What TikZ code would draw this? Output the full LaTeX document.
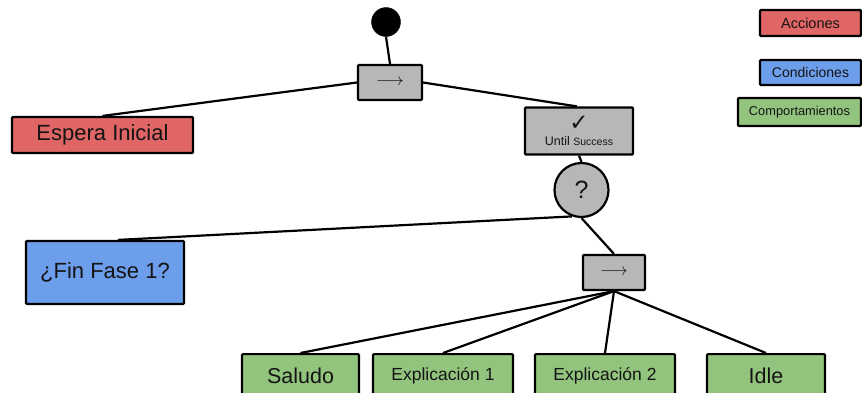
\documentclass[tikz,border=0pt]{standalone}
\usepackage{fontspec}
\setmainfont{Liberation Sans}
\newfontfamily\symfont{DejaVu Sans}
\definecolor{accion}{HTML}{E06666}
\definecolor{condicion}{HTML}{6D9EEB}
\definecolor{comport}{HTML}{93C47D}
\definecolor{control}{HTML}{B7B7B7}
\definecolor{ink}{HTML}{141414}
\begin{document}
\begin{tikzpicture}[x=1pt,y=-1pt,
  box/.style={draw=black,line width=2.2pt,rounded corners=1pt,text=ink,inner sep=0pt,align=center},
  actbox/.style={box,fill=accion},
  condbox/.style={box,fill=condicion},
  behbox/.style={box,fill=comport,anchor=north},
  ctrlbox/.style={box,fill=control},
  edge/.style={line width=2.2pt,black},
  bigtxt/.style={font=\fontsize{21.5}{24}\selectfont},
  midtxt/.style={font=\fontsize{17.5}{20}\selectfont},
  seqarrow/.style={font=\fontsize{16}{18}\selectfont}]
\useasboundingbox (0,0) rectangle (862,392);
\clip (0,0) rectangle (862,392);

% root
\node[circle,fill=black,draw=black,minimum size=29pt,inner sep=0pt] (start) at (386,22) {};

% control nodes
\node[ctrlbox,minimum width=64pt,minimum height=35pt,seqarrow] (seq1) at (390,82.5) {$\longrightarrow$};
\node[ctrlbox,minimum width=108pt,minimum height=47pt] (until) at (579,131)
  {{\symfont\fontsize{23}{23}\selectfont ✓}\\[3pt]{\fontsize{12.5}{13}\selectfont Until \fontsize{10.5}{13}\selectfont Success}};
\node[circle,draw=black,line width=2.2pt,fill=control,minimum size=54pt,inner sep=0pt,text=ink,font=\fontsize{25}{28}\selectfont] (sel) at (581.5,190) {?};
\node[ctrlbox,minimum width=62pt,minimum height=35pt,seqarrow] (seq2) at (614,272.5) {$\longrightarrow$};

% leaves
\node[actbox,minimum width=181pt,minimum height=36pt,font=\fontsize{22}{24}\selectfont] (espera) at (102.5,135) {Espera Inicial};
\node[condbox,minimum width=158pt,minimum height=63pt,font=\fontsize{22}{24}\selectfont] (fin) at (105,272.5) {¿Fin Fase 1?};
\node[behbox,minimum width=117pt,minimum height=44pt,bigtxt] (saludo) at (300.5,353) {Saludo};
\node[behbox,minimum width=140pt,minimum height=44pt,midtxt] (expl1) at (443,353) {Explicación 1};
\node[behbox,minimum width=140pt,minimum height=44pt,midtxt] (expl2) at (605,353) {Explicación 2};
\node[behbox,minimum width=118pt,minimum height=44pt,bigtxt] (idle) at (766,353) {Idle};

% legend (boxes run to the right edge)
\node[actbox,minimum width=101pt,minimum height=26pt,font=\fontsize{14.5}{16}\selectfont] (legA) at (810.5,23) {Acciones};
\node[condbox,minimum width=101pt,minimum height=25pt,font=\fontsize{14}{16}\selectfont] (legC) at (810.5,72.5) {Condiciones};
\node[box,fill=comport,minimum width=123pt,minimum height=28pt,font=\fontsize{12.8}{14}\selectfont] (legB) at (799.5,112) {Comportamientos};

% connectors
\draw[edge] (start.south) -- (seq1.north);
\draw[edge] (seq1.west) -- (espera.north);
\draw[edge] (seq1.east) -- ([xshift=-2pt]until.north);
\draw[edge] (until.south) -- (sel.north);
\draw[edge] (sel.250) -- ([xshift=13pt]fin.north);
\draw[edge] (sel.south) -- (seq2.north);
\draw[edge] (seq2.south) -- (saludo.north);
\draw[edge] (seq2.south) -- (expl1.north);
\draw[edge] (seq2.south) -- (expl2.north);
\draw[edge] (seq2.south) -- (idle.north);
\end{tikzpicture}
\end{document}
